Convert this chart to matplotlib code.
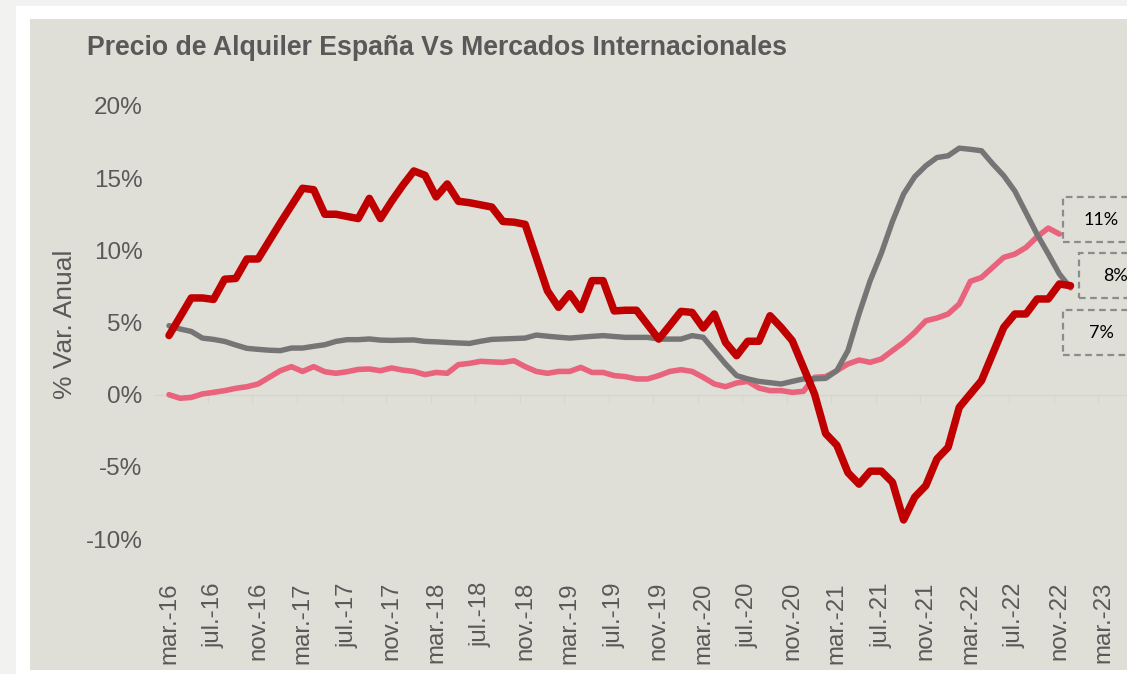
import numpy as np
import matplotlib.pyplot as plt
from matplotlib.patches import Rectangle

# variacion anual (%) mensual, mar-16 .. dic-22
espana = [4.1, 5.4, 6.7, 6.7, 6.6, 8.0, 8.05, 9.4, 9.4, 10.65,
          11.9, 13.1, 14.3, 14.2, 12.5, 12.5, 12.35, 12.2, 13.6, 12.2,
          13.4, 14.5, 15.5, 15.2, 13.7, 14.6, 13.4, 13.3, 13.15, 13.0,
          12.0, 11.95, 11.8, 9.5, 7.2, 6.05, 7.0, 5.9, 7.9, 7.9,
          5.8, 5.85, 5.85, 4.85, 3.85, 4.8, 5.77, 5.7, 4.62, 5.59,
          3.62, 2.7, 3.7, 3.7, 5.47, 4.66, 3.74, 1.89, 0.05, -2.7,
          -3.5, -5.4, -6.2, -5.3, -5.3, -6.07, -8.68, -7.1, -6.3, -4.45,
          -3.65, -0.88, 0.05, 0.97, 2.82, 4.66, 5.59, 5.59, 6.63, 6.63,
          7.67, 7.55]

gris = [4.78, 4.55, 4.38, 3.92, 3.83, 3.69, 3.44, 3.21, 3.14, 3.08,
        3.05, 3.23, 3.23, 3.35, 3.46, 3.69, 3.81, 3.81, 3.86, 3.78,
        3.76, 3.78, 3.79, 3.69, 3.66, 3.62, 3.58, 3.55, 3.7, 3.83,
        3.86, 3.89, 3.92, 4.13, 4.05, 3.98, 3.92, 3.98, 4.04, 4.09,
        4.03, 3.97, 3.97, 3.97, 3.85, 3.85, 3.85, 4.09, 3.97, 3.05,
        2.13, 1.32, 1.09, 0.92, 0.83, 0.74, 0.92, 1.09, 1.1, 1.13,
        1.66, 3.05, 5.6, 7.9, 9.8, 12.0, 13.9, 15.1, 15.86, 16.43,
        16.55, 17.08, 17.0, 16.9, 16.0, 15.17, 14.1, 12.6, 11.1, 9.75,
        8.36, 7.4]

rosa = [0.0, -0.25, -0.19, 0.05, 0.16, 0.28, 0.44, 0.55, 0.74, 1.2,
        1.66, 1.94, 1.61, 1.94, 1.59, 1.48, 1.59, 1.75, 1.78, 1.66,
        1.85, 1.7, 1.61, 1.39, 1.54, 1.48, 2.08, 2.17, 2.31, 2.27,
        2.24, 2.35, 1.94, 1.61, 1.48, 1.61, 1.61, 1.89, 1.54, 1.54,
        1.32, 1.25, 1.09, 1.09, 1.32, 1.61, 1.73, 1.61, 1.2, 0.74,
        0.55, 0.81, 0.92, 0.46, 0.28, 0.28, 0.16, 0.23, 1.2, 1.25,
        1.66, 2.13, 2.4, 2.24, 2.47, 3.05, 3.62, 4.31, 5.12, 5.31,
        5.59, 6.28, 7.85, 8.12, 8.82, 9.51, 9.74, 10.2, 10.94, 11.54,
        11.13]

tick_labels = ['mar.-16', 'jul.-16', 'nov.-16', 'mar.-17', 'jul.-17', 'nov.-17',
               'mar.-18', 'jul.-18', 'nov.-18', 'mar.-19', 'jul.-19', 'nov.-19',
               'mar.-20', 'jul.-20', 'nov.-20', 'mar.-21', 'jul.-21', 'nov.-21',
               'mar.-22', 'jul.-22', 'nov.-22', 'mar.-23']
y_ticks = [-10, -5, 0, 5, 10, 15, 20]
end_labels = ['11%', '8%', '7%']

W, H = 1127, 674
txt = '#595959'

fig = plt.figure(figsize=(W / 100, H / 100), dpi=100)
fig.patch.set_facecolor('#f2f2f0')

def px(x, y, w, h):
    # rect in pixel coords (top-left origin) -> figure fraction
    return (x / W, 1 - (y + h) / H, w / W, h / H)

x0, y0, w0, h0 = px(16, 6, 1200, 668)
fig.patches.append(Rectangle((x0, y0), w0, h0, transform=fig.transFigure,
                             facecolor='white', edgecolor='none', zorder=-3))
x0, y0, w0, h0 = px(30, 19, 1200, 651)
fig.patches.append(Rectangle((x0, y0), w0, h0, transform=fig.transFigure,
                             facecolor='#dfdfd7', edgecolor='none', zorder=-2))

ax = fig.add_axes(px(155, 106, W - 155, 433))
ax.set_facecolor('none')
for s in ax.spines.values():
    s.set_visible(False)

step = 11.13
ax.set_xlim((155 - 169) / step, (W - 169) / step)
ax.set_ylim(-10, 20)

ax.axhline(0, color='#d6d6d0', lw=1, zorder=1)
ax.vlines(np.arange(3.5, 86, 4), -0.55, 0, color='#d6d6d0', lw=1, zorder=1)

ax.plot(np.arange(len(rosa)), rosa, color='#e8637b', lw=4.0,
        solid_capstyle='round', solid_joinstyle='round', zorder=3)
ax.plot(np.arange(len(gris)), gris, color='#757575', lw=3.9,
        solid_capstyle='round', solid_joinstyle='round', zorder=4)
ax.plot(np.arange(len(espana)), espana, color='#c00000', lw=5.4,
        solid_capstyle='round', solid_joinstyle='round', zorder=5)

ax.set_xticks(np.arange(0, 4 * len(tick_labels), 4))
ax.set_xticklabels(tick_labels, rotation=90, fontsize=17.3, color=txt,
                   family='Liberation Sans')
ax.set_yticks(y_ticks)
ax.set_yticklabels(['%d%%' % v for v in y_ticks], fontsize=17.5, color=txt,
                   family='Liberation Sans')
ax.tick_params(axis='both', length=0)
ax.tick_params(axis='x', pad=31)
ax.tick_params(axis='y', pad=9)

fig.text(65 / W, 1 - 324 / H, '% Var. Anual', rotation=90, ha='center',
         va='center', fontsize=19, color=txt, family='Liberation Sans')
fig.text(87 / W, 1 - 48 / H, 'Precio de Alquiler España Vs Mercados Internacionales',
         ha='left', va='center', fontsize=19.2, fontweight='bold', color=txt,
         family='Liberation Sans')

# cajas de etiqueta a la derecha
boxes = [(1063, 197, 1101), (1079, 253, 1116), (1063, 310, 1101)]
for (bx, by, tx), lab in zip(boxes, end_labels):
    r = Rectangle(px(bx, by, 80, 45)[:2], 80 / W, 45 / H, transform=fig.transFigure,
                  facecolor='none', edgecolor='#8c8c8c', lw=1.6,
                  linestyle=(0, (3, 2)), zorder=6)
    fig.patches.append(r)
    fig.text(tx / W, 1 - (by + 23) / H, lab, ha='center', va='center',
             fontsize=13, color='black', family='Lato')

fig.savefig('out.png', dpi=100, facecolor=fig.get_facecolor())
